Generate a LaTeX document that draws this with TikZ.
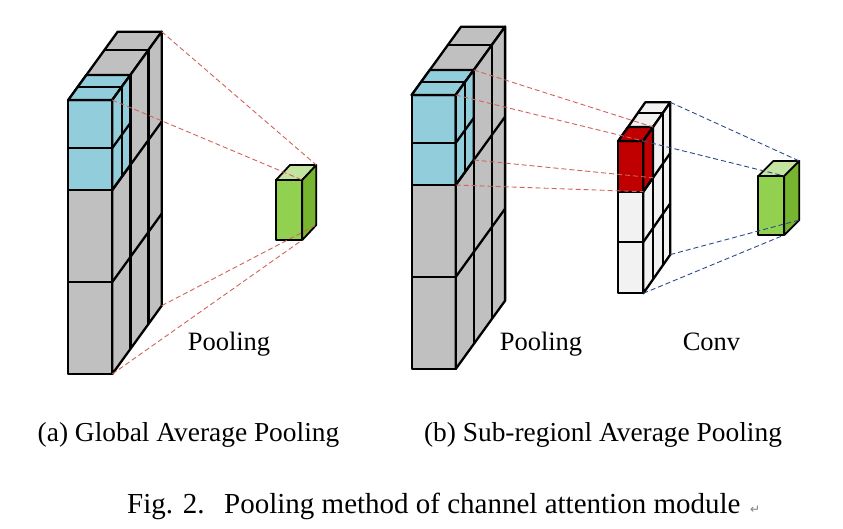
\documentclass[tikz,border=0pt]{standalone}
\usepackage{fontspec}
\setmainfont{Liberation Serif}
\newfontfamily\symfont{DejaVu Sans}
\usetikzlibrary{calc}
\definecolor{cgray}{HTML}{C0C0C0}
\definecolor{ccyan}{HTML}{92CDDC}
\definecolor{cred}{HTML}{C00000}
\definecolor{cwhite}{HTML}{F2F2F2}
\definecolor{gfront}{HTML}{92D050}
\definecolor{gtop}{HTML}{C4E59F}
\definecolor{gside}{HTML}{77B530}
\definecolor{rdash}{HTML}{D0645A}
\definecolor{bdash}{HTML}{2E4A8C}
\tikzset{
  edge/.style={draw=black, line width=2.3pt, line join=round},
  gedge/.style={draw=black, line width=1.8pt, line join=round},
  reddash/.style={draw=rdash, line width=0.9pt, dash pattern=on 5pt off 3pt},
  bluedash/.style={draw=bdash, line width=0.9pt, dash pattern=on 5pt off 3pt},
  lbl/.style={font=\fontsize{26.5}{30}\selectfont, inner sep=0pt, anchor=base},
  sublbl/.style={font=\fontsize{27.4}{31}\selectfont, inner sep=0pt, anchor=base},
  caplbl/.style={font=\fontsize{29}{34}\selectfont, inner sep=0pt, anchor=base west},
}
\newcommand\bigblock[3]{%
  \coordinate (#1A) at (#2,#3);
  \coordinate (#1B) at ({#2+44},#3);
  \coordinate (#1C) at ({#2+44},{#3+274});
  \coordinate (#1M) at ({#2+44},{#3+90});
  \coordinate (#1Ab) at ($(#1A)+(49.4,-68.3)$);
  \coordinate (#1Bb) at ($(#1B)+(49.4,-68.3)$);
  \coordinate (#1Cb) at ($(#1C)+(49.4,-68.3)$);
  \coordinate (#1Q) at ($(#1B)!0.366!(#1Bb)$);
  \coordinate (#1Qm) at ($(#1M)+(18.08,-25)$);
  % front
  \path[edge, fill=cgray] (#1A) rectangle (#1C);
  \path[edge, fill=ccyan] (#1A) rectangle (#1M);
  \draw[edge] (#2,{#3+48}) -- ++(44,0);
  \draw[edge] (#2,{#3+182}) -- ++(44,0);
  % top
  \path[edge, fill=cgray] (#1A) -- (#1B) -- (#1Bb) -- (#1Ab) -- cycle;
  \path[edge, fill=ccyan] (#1A) -- (#1B) -- (#1Q) -- ($(#1A)!0.366!(#1Ab)$) -- cycle;
  \draw[edge] ($(#1A)!0.195!(#1Ab)$) -- ($(#1B)!0.195!(#1Bb)$);
  \draw[edge] ($(#1A)!0.73!(#1Ab)$) -- ($(#1B)!0.73!(#1Bb)$);
  % right
  \path[edge, fill=cgray] (#1B) -- (#1Bb) -- (#1Cb) -- (#1C) -- cycle;
  \path[edge, fill=ccyan] (#1B) -- (#1Q) -- (#1Qm) -- (#1M) -- cycle;
  \draw[edge] (#1Q) -- ($(#1C)!0.366!(#1Cb)$);
  \draw[edge] ($(#1B)!0.73!(#1Bb)$) -- ($(#1C)!0.73!(#1Cb)$);
  \draw[edge] ($(#1B)!0.195!(#1Bb)$) -- ++(0,90);
  \draw[edge] ({#2+44},{#3+48}) -- ++(18.08,-25);
  \draw[edge] (#1M) -- ++(49.4,-68.3);
  \draw[edge] ({#2+44},{#3+182}) -- ++(49.4,-68.3);
}
\newcommand\smallcube[7]{%
  \coordinate (#1A) at (#2,#3);
  \coordinate (#1B) at ({#2+#4},#3);
  \coordinate (#1C) at ({#2+#4},{#3+#5});
  \coordinate (#1Ab) at ($(#1A)+(#6,#7)$);
  \coordinate (#1Bb) at ($(#1B)+(#6,#7)$);
  \coordinate (#1Cb) at ($(#1C)+(#6,#7)$);
  \path[gedge, fill=gfront] (#1A) rectangle (#1C);
  \path[gedge, fill=gtop] (#1A) -- (#1B) -- (#1Bb) -- (#1Ab) -- cycle;
  \path[gedge, fill=gside] (#1B) -- (#1Bb) -- (#1Cb) -- (#1C) -- cycle;
}
\begin{document}
\begin{tikzpicture}[x=1pt, y=-1pt]
  \fill[white] (0,0) rectangle (843,529);
  \useasboundingbox (0,0) rectangle (843,529);

  % (a) feature block and pooled cube
  \bigblock{a}{68.3}{100}
  \smallcube{ga}{276}{180}{26.3}{60}{14}{-15}

  % (b) feature block
  \bigblock{b}{411.7}{95}

  % (b) sub-region column
  \coordinate (wA) at (618.3,141);
  \coordinate (wB) at (643.3,141);
  \coordinate (wC) at (643.3,293.3);
  \coordinate (wM) at (643.3,191.7);
  \coordinate (wAb) at ($(wA)+(27,-38.7)$);
  \coordinate (wBb) at ($(wB)+(27,-38.7)$);
  \coordinate (wCb) at ($(wC)+(27,-38.7)$);
  \coordinate (wQ) at ($(wB)!0.36!(wBb)$);
  \coordinate (wQm) at ($(wM)+(9.72,-13.93)$);
  \path[edge, fill=cwhite] (wA) rectangle (wC);
  \path[edge, fill=cred] (wA) rectangle (wM);
  \draw[edge] (618.3,242) -- ++(25,0);
  \path[edge, fill=cwhite] (wA) -- (wB) -- (wBb) -- (wAb) -- cycle;
  \path[edge, fill=cred] (wA) -- (wB) -- (wQ) -- ($(wA)!0.36!(wAb)$) -- cycle;
  \draw[edge] ($(wA)!0.73!(wAb)$) -- ($(wB)!0.73!(wBb)$);
  \path[edge, fill=cwhite] (wB) -- (wBb) -- (wCb) -- (wC) -- cycle;
  \path[edge, fill=cred] (wB) -- (wQ) -- (wQm) -- (wM) -- cycle;
  \draw[edge] (wQ) -- ($(wC)!0.36!(wCb)$);
  \draw[edge] ($(wB)!0.73!(wBb)$) -- ($(wC)!0.73!(wCb)$);
  \draw[edge] (wM) -- ++(27,-38.7);
  \draw[edge] (643.3,242) -- ++(27,-38.7);

  % (b) pooled cube
  \smallcube{gb}{758.3}{176}{26}{59}{15}{-15}

  % dashed projection lines
  \draw[reddash] (aBb) -- (gaBb);
  \draw[reddash] (aB) -- (gaB);
  \draw[reddash] (aC) -- (gaC);
  \draw[reddash] (aCb) -- (gaCb);
  \draw[reddash] (bQ) -- (wQ);
  \draw[reddash] (bB) -- (wB);
  \draw[reddash] (bQm) -- (wQm);
  \draw[reddash] (bM) -- (wM);
  \draw[bluedash] (wBb) -- (gbBb);
  \draw[bluedash] (wB) -- (gbB);
  \draw[bluedash] (wCb) -- (gbCb);
  \draw[bluedash] (wC) -- (gbC);

  % labels
  \node[lbl] (poola) at (229,350) {Pooling};
  \node[lbl] (poolb) at (541,350) {Pooling};
  \node[lbl] (conv) at (711.5,350) {Conv};
  \node[sublbl] (suba) at (188.5,441) {(a) Global Average Pooling};
  \node[sublbl] (subb) at (603,441) {(b) Sub-regionl Average Pooling};
  \node[caplbl] (figno) at (127,513) {Fig. 2.};
  \node[caplbl] (captxt) at (224,513) {Pooling method of channel attention module};
  \node[anchor=base west, inner sep=0pt, text=gray, font=\symfont\fontsize{12}{14}\selectfont] (parmark) at (750,513) {↵};
\end{tikzpicture}
\end{document}
